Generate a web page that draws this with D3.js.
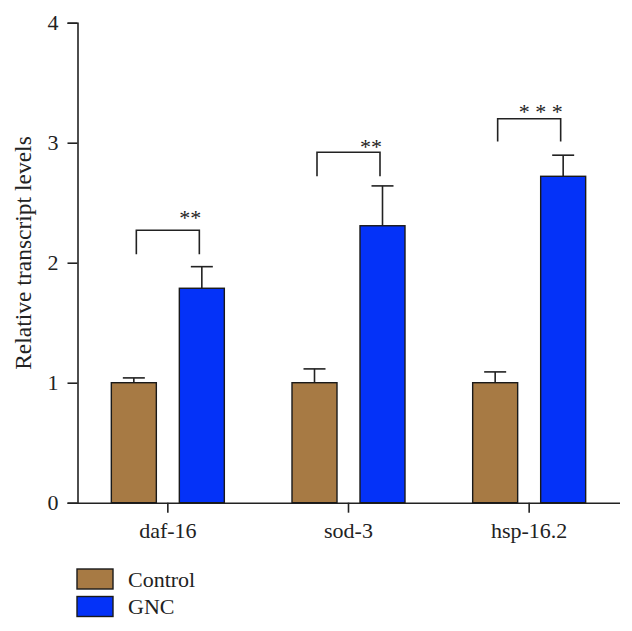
<!DOCTYPE html>
<html><head><meta charset="utf-8">
<script src="https://cdn.jsdelivr.net/npm/d3@7"></script>
<style>body{margin:0;background:#fff}svg{display:block}text{font-family:"Liberation Serif","DejaVu Serif",serif;fill:#222}</style>
</head><body>
<script>
const categories = ["daf-16", "sod-3", "hsp-16.2"];
const seriesNames = ["Control", "GNC"];
const controlValues = [1.0, 1.0, 1.0];
const controlErr = [0.04, 0.115, 0.09];
const gncValues = [1.787, 2.308, 2.72];
const gncErr = [0.18, 0.332, 0.176];
const bracketTop = [2.27, 2.92, 3.20];
const bracketLeg = [2.07, 2.72, 3.01];
const sigLabels = ["**", "**", "* * *"];
const sigLevel = [2.42, 3.01, 3.305];
const yTicks = [0, 1, 2, 3, 4];
const colors = ["#A77A44", "#0432F8"];

const W = 632, H = 631;
const svg = d3.select("body").append("svg").attr("width", W).attr("height", H);
const x0 = 77.5, x1 = 619.5, yBottom = 502.7, yTop = 22.7;
const x = d3.scaleBand().domain(categories).range([x0, x1]);
const y = d3.scaleLinear().domain([0, 4]).range([yBottom, yTop]);
const off = 34, bw = 45;

// axes
const yAxis = svg.append("g").attr("transform", `translate(${x0},0)`)
  .call(d3.axisLeft(y).tickValues(yTicks).tickSize(10).tickPadding(9).tickFormat(d3.format("d")));
yAxis.select(".domain").attr("stroke", "#222").attr("stroke-width", 1.6);
yAxis.selectAll(".tick line").attr("stroke", "#222").attr("stroke-width", 1.6);
yAxis.selectAll(".tick text").attr("font-size", 22).attr("fill", "#222");

const xAxis = svg.append("g").attr("transform", `translate(0,${yBottom})`)
  .call(d3.axisBottom(x).tickSize(10).tickPadding(10).tickSizeOuter(0));
xAxis.select(".domain").attr("stroke", "#222").attr("stroke-width", 1.6);
xAxis.selectAll(".tick line").attr("stroke", "#222").attr("stroke-width", 1.6);
xAxis.selectAll(".tick text").attr("font-size", 22).attr("fill", "#222");

svg.append("text").attr("transform", `translate(31,253) rotate(-90)`)
  .attr("text-anchor", "middle").attr("font-size", 23.5).text("Relative transcript levels");

const series = [
  {vals: controlValues, err: controlErr, dx: -off, color: colors[0]},
  {vals: gncValues, err: gncErr, dx: off, color: colors[1]}
];
series.forEach(s => {
  const g = svg.append("g");
  categories.forEach((c, i) => {
    const cx = x(c) + x.bandwidth() / 2 + s.dx;
    const top = y(s.vals[i]), cap = y(s.vals[i] + s.err[i]);
    g.append("line").attr("x1", cx).attr("x2", cx).attr("y1", top).attr("y2", cap).attr("stroke", "#222").attr("stroke-width", 1.6);
    g.append("line").attr("x1", cx - 11).attr("x2", cx + 11).attr("y1", cap).attr("y2", cap).attr("stroke", "#222").attr("stroke-width", 1.6);
    g.append("rect").attr("x", cx - bw / 2).attr("y", top).attr("width", bw).attr("height", yBottom - top)
      .attr("fill", s.color).attr("stroke", "#1a1a1a").attr("stroke-width", 1.4);
  });
});

// significance brackets
categories.forEach((c, i) => {
  const cx = x(c) + x.bandwidth() / 2;
  const l = cx - 31.5, r = cx + 31.5, t = y(bracketTop[i]), b = y(bracketLeg[i]);
  svg.append("path").attr("d", `M${l},${b}V${t}H${r}V${b}`).attr("fill", "none").attr("stroke", "#222").attr("stroke-width", 1.6);
  svg.append("text").attr("x", r + 2).attr("y", y(sigLevel[i]) + 12.5).attr("text-anchor", "end").attr("font-size", 22)
    .attr("fill", "#333").text(sigLabels[i]);
});

// legend
const lg = svg.append("g");
seriesNames.forEach((n, i) => {
  const yy = 569 + i * 27.5;
  lg.append("rect").attr("x", 77).attr("y", yy).attr("width", 36).attr("height", 20)
    .attr("fill", colors[i]).attr("stroke", "#1a1a1a").attr("stroke-width", 1.4);
  lg.append("text").attr("x", 128).attr("y", yy + 17.5).attr("font-size", 22).text(n);
});
</script>
</body></html>
